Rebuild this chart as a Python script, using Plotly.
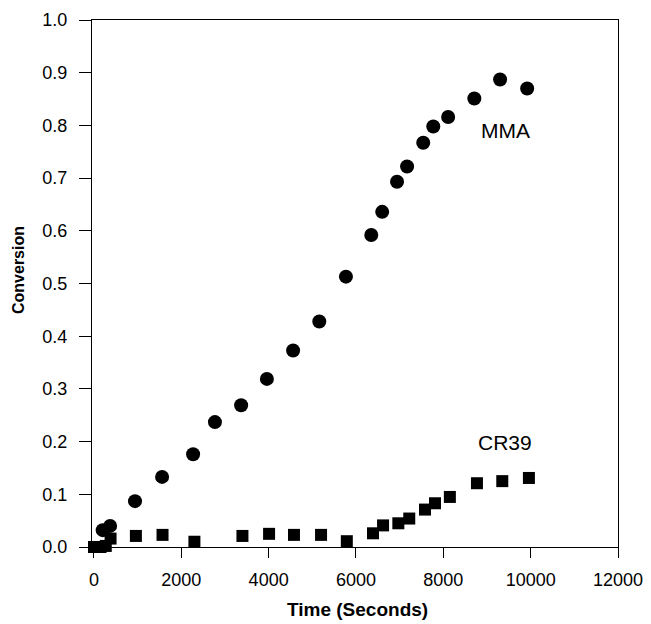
import plotly.graph_objects as go

mma_time = [200, 370, 940, 1560, 2270, 2770, 3370, 3960, 4560, 5160, 5770,
            6350, 6600, 6940, 7170, 7540, 7770, 8110, 8710, 9300, 9920]
mma_conv = [0.032, 0.040, 0.087, 0.133, 0.176, 0.237, 0.269, 0.319, 0.373, 0.428, 0.513,
            0.592, 0.636, 0.693, 0.722, 0.767, 0.798, 0.816, 0.851, 0.887, 0.870]

cr39_time = [0, 150, 270, 380, 960, 1570, 2300, 3400, 4010, 4580, 5200, 5790,
             6390, 6620, 6970, 7220, 7580, 7810, 8150, 8770, 9350, 9960]
cr39_conv = [0.0, 0.0, 0.002, 0.016, 0.021, 0.023, 0.010, 0.021, 0.025, 0.023, 0.023, 0.011,
             0.026, 0.041, 0.045, 0.054, 0.071, 0.083, 0.095, 0.121, 0.125, 0.131]

x_ticks = [0, 2000, 4000, 6000, 8000, 10000, 12000]
y_ticks = [0.0, 0.1, 0.2, 0.3, 0.4, 0.5, 0.6, 0.7, 0.8, 0.9, 1.0]

FONT = "Liberation Sans, Arial, Helvetica"

fig = go.Figure()
fig.add_trace(go.Scatter(x=mma_time, y=mma_conv, mode="markers", name="MMA",
                         marker=dict(symbol="circle", size=14, color="black"),
                         cliponaxis=False))
fig.add_trace(go.Scatter(x=cr39_time, y=cr39_conv, mode="markers", name="CR39",
                         marker=dict(symbol="square", size=12, color="black"),
                         cliponaxis=False))

fig.add_annotation(x=9415, y=0.79, text="MMA", showarrow=False,
                   font=dict(family=FONT, size=21, color="black"))
fig.add_annotation(x=9415, y=0.199, text="CR39", showarrow=False,
                   font=dict(family=FONT, size=21, color="black"))

# axis titles as annotations for precise placement
fig.add_annotation(xref="paper", yref="paper", x=0, y=0.5256, xshift=-74,
                   text="<b>Conversion</b>", textangle=-90, showarrow=False,
                   xanchor="center", yanchor="middle",
                   font=dict(family=FONT, size=16, color="black"))
fig.add_annotation(xref="paper", yref="paper", x=0.504, y=0, yshift=-62,
                   text="<b>Time (Seconds)</b>", showarrow=False,
                   xanchor="center", yanchor="middle",
                   font=dict(family=FONT, size=19, color="black"))

fig.update_layout(
    width=643, height=616,
    margin=dict(l=84, r=33, t=12, b=77, autoexpand=False),
    paper_bgcolor="white", plot_bgcolor="white",
    showlegend=False,
    font=dict(family=FONT, color="black"),
    xaxis=dict(range=[-45, 12000], tickvals=x_ticks, tickformat="d",
               ticks="outside", ticklen=10, tickwidth=1, tickcolor="black",
               showline=True, linecolor="black", linewidth=1, mirror=True,
               showgrid=False, zeroline=False, ticklabelstandoff=6,
               tickfont=dict(size=18)),
    yaxis=dict(range=[0, 1.0], tickvals=y_ticks, tickformat=".1f",
               ticks="outside", ticklen=12, tickwidth=1, tickcolor="black",
               showline=True, linecolor="black", linewidth=1, mirror=True,
               showgrid=False, zeroline=False, ticklabelstandoff=8,
               tickfont=dict(size=18)),
)

fig.write_html("out.html")
